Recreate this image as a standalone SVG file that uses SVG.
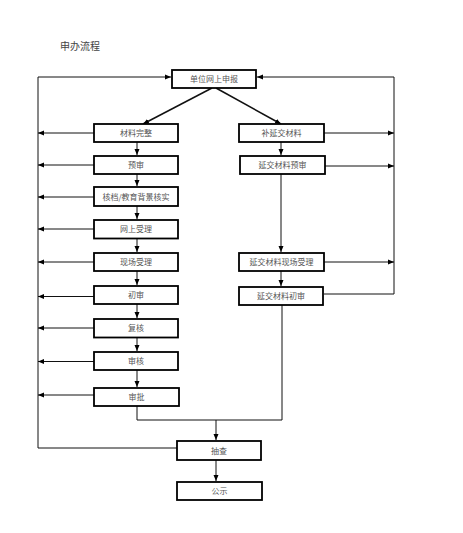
<svg xmlns="http://www.w3.org/2000/svg" width="463" height="533" viewBox="0 0 463 533">
<defs>
<marker id="ah" markerWidth="6" markerHeight="6" refX="6" refY="3" orient="auto" markerUnits="userSpaceOnUse">
<path d="M0,0.5 L6,3 L0,5.5 z" fill="#000"/>
</marker>
<style>
.box{fill:#fff;stroke:#000;stroke-width:1.8}
.t{font-family:"Noto Sans CJK SC","Noto Sans",sans-serif;font-size:8px;fill:#555;text-anchor:middle}
.c{fill:none;stroke:#111;stroke-width:1}
.a{fill:none;stroke:#111;stroke-width:1;marker-end:url(#ah)}
.d{fill:none;stroke:#111;stroke-width:1.5;marker-end:url(#ah)}
</style>
</defs>
<rect width="463" height="533" fill="#fff"/>
<text x="60" y="50" font-family="'Noto Sans CJK SC',sans-serif" font-size="10" fill="#444">申办流程</text>
<g id="connectors">
<polyline class="a" points="177,448 38,448 38,77 171,77"/>
<polyline class="a" points="324,294 394,294 394,77 257,77"/>
<line class="d" x1="212" y1="88" x2="143" y2="124"/>
<line class="d" x1="216" y1="88" x2="281" y2="124"/>
<line class="a" x1="94" y1="133" x2="38" y2="133"/>
<line class="a" x1="94" y1="165" x2="38" y2="165"/>
<line class="a" x1="94" y1="197" x2="38" y2="197"/>
<line class="a" x1="94" y1="229" x2="38" y2="229"/>
<line class="a" x1="94" y1="262" x2="38" y2="262"/>
<line class="a" x1="94" y1="296.5" x2="38" y2="296.5"/>
<line class="a" x1="94" y1="328" x2="38" y2="328"/>
<line class="a" x1="94" y1="361.5" x2="38" y2="361.5"/>
<line class="a" x1="94" y1="395" x2="38" y2="395"/>
<line class="a" x1="324" y1="133" x2="394" y2="133"/>
<line class="a" x1="325" y1="166" x2="394" y2="166"/>
<line class="a" x1="324" y1="262" x2="394" y2="262"/>
<line class="a" x1="137" y1="142" x2="137" y2="155"/>
<line class="a" x1="137" y1="174" x2="137" y2="186"/>
<line class="a" x1="137" y1="206" x2="137" y2="219"/>
<line class="a" x1="137" y1="238.5" x2="137" y2="252"/>
<line class="a" x1="137" y1="271" x2="137" y2="285"/>
<line class="a" x1="137" y1="304" x2="137" y2="318"/>
<line class="a" x1="137" y1="337.5" x2="137" y2="351"/>
<line class="a" x1="137" y1="370" x2="137" y2="387"/>
<line class="a" x1="281" y1="142" x2="281" y2="155"/>
<line class="a" x1="281" y1="174" x2="281" y2="252"/>
<line class="a" x1="281" y1="271" x2="281" y2="286"/>
<polyline class="c" points="137,406 137,420 282,420 282,305"/>
<line class="a" x1="216" y1="420" x2="216" y2="440"/>
<line class="a" x1="216" y1="460" x2="216" y2="481"/>
</g>
<g id="n_top"><rect class="box" x="172" y="70" width="84" height="18"/><text class="t" x="214" y="82">单位网上申报</text></g>
<g id="n_wz"><rect class="box" x="94" y="124" width="84" height="18"/><text class="t" x="136" y="136">材料完整</text></g>
<g id="n_ys"><rect class="box" x="94" y="156" width="84" height="18"/><text class="t" x="136" y="168">预审</text></g>
<g id="n_hd"><rect class="box" x="94" y="187" width="84" height="19"/><text class="t" x="136" y="199.5">核档/教育背景核实</text></g>
<g id="n_wsl"><rect class="box" x="94" y="220" width="84" height="18.5"/><text class="t" x="136" y="232">网上受理</text></g>
<g id="n_xcsl"><rect class="box" x="94" y="253" width="84" height="18"/><text class="t" x="136" y="265">现场受理</text></g>
<g id="n_cs"><rect class="box" x="94" y="286" width="84" height="18"/><text class="t" x="136" y="298">初审</text></g>
<g id="n_fh"><rect class="box" x="94" y="319" width="84" height="18.5"/><text class="t" x="136" y="331">复核</text></g>
<g id="n_sh"><rect class="box" x="94" y="352" width="84" height="18"/><text class="t" x="136" y="364">审核</text></g>
<g id="n_sp"><rect class="box" x="94" y="388" width="85" height="18"/><text class="t" x="136.5" y="400">审批</text></g>
<g id="n_bycl"><rect class="box" x="239" y="124" width="85" height="18"/><text class="t" x="281.5" y="136">补延交材料</text></g>
<g id="n_ycys"><rect class="box" x="240" y="156" width="85" height="18"/><text class="t" x="282.5" y="168">延交材料预审</text></g>
<g id="n_ycxc"><rect class="box" x="239" y="253" width="85" height="18"/><text class="t" x="281.5" y="265">延交材料现场受理</text></g>
<g id="n_yccs"><rect class="box" x="239" y="287" width="84" height="18"/><text class="t" x="281" y="299">延交材料初审</text></g>
<g id="n_cc"><rect class="box" x="177" y="441" width="84" height="19"/><text class="t" x="219" y="453.5">抽查</text></g>
<g id="n_gs"><rect class="box" x="177" y="482" width="85" height="18"/><text class="t" x="219.5" y="494">公示</text></g>
</svg>
